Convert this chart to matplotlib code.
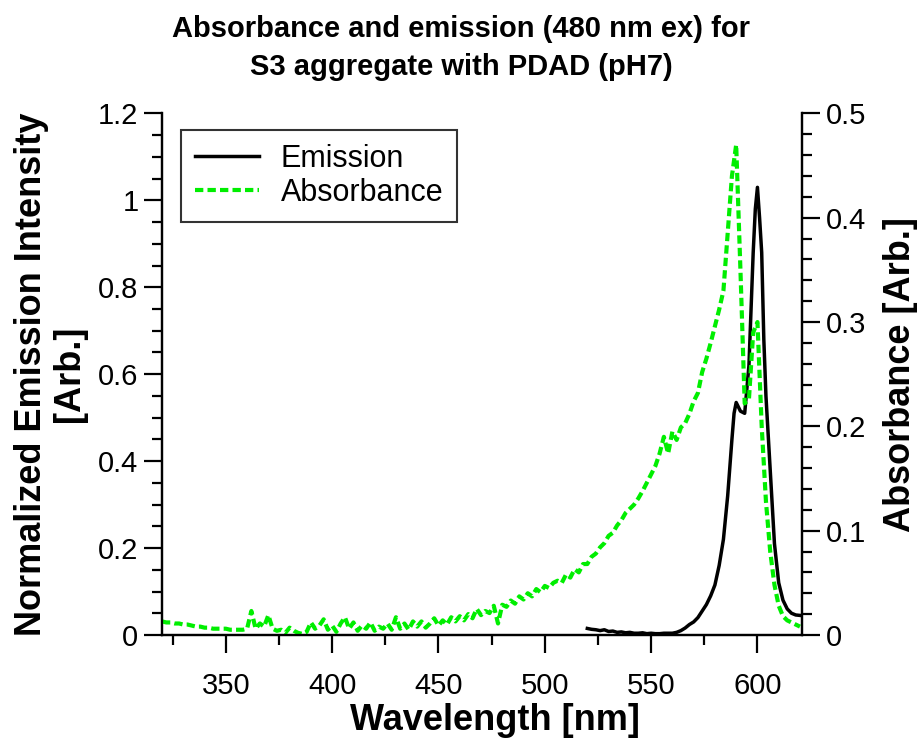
import matplotlib
matplotlib.use('Agg')
import matplotlib.pyplot as plt
import numpy as np
from matplotlib.ticker import MultipleLocator, FuncFormatter

plt.rcParams['font.family'] = ['Liberation Sans', 'DejaVu Sans']

# ----------------------------------------------------------------------------------
# Data
# ----------------------------------------------------------------------------------
# Absorbance (right axis), 320-620 nm every 2 nm
abs_wl = np.arange(320, 621, 2)
abs_val = [
    0.013, 0.012, 0.012, 0.011, 0.011, 0.010, 0.010, 0.009, 0.008, 0.008,   # 320-338
    0.007, 0.007, 0.006, 0.006, 0.006, 0.006, 0.005, 0.005, 0.005, 0.005,   # 340-358
    0.006, 0.023, 0.006, 0.011, 0.008, 0.019, 0.006, 0.004, 0.005, 0.002,   # 360-378
    0.007, 0.004, 0.002, 0.001, 0.003, 0.012, 0.006, 0.009, 0.015, 0.005,   # 380-398
    0.009, 0.003, 0.011, 0.017, 0.006, 0.012, 0.004, 0.009, 0.006, 0.012,   # 400-418
    0.004, 0.008, 0.006, 0.011, 0.005, 0.017, 0.006, 0.011, 0.005, 0.013,   # 420-438
    0.008, 0.013, 0.007, 0.011, 0.016, 0.009, 0.014, 0.010, 0.017, 0.013,   # 440-458
    0.018, 0.014, 0.020, 0.016, 0.025, 0.019, 0.023, 0.021, 0.028, 0.011,   # 460-478
    0.029, 0.027, 0.033, 0.030, 0.037, 0.034, 0.040, 0.037, 0.044, 0.041,   # 480-498
    0.047, 0.045, 0.050, 0.052, 0.050, 0.058, 0.055, 0.063, 0.060, 0.068,   # 500-518
    0.068, 0.075, 0.078, 0.084, 0.088, 0.095, 0.098, 0.105, 0.110, 0.117,   # 520-538
    0.121, 0.125, 0.131, 0.138, 0.146, 0.154, 0.162, 0.174, 0.190, 0.174,   # 540-558
    0.195, 0.187, 0.199, 0.203, 0.212, 0.224, 0.232, 0.252, 0.265, 0.280,   # 560-578
    0.296, 0.312, 0.330, 0.385, 0.440, 0.470, 0.350, 0.222, 0.226, 0.290,   # 580-598
    0.300, 0.200, 0.128, 0.080, 0.048, 0.028, 0.018, 0.014, 0.012, 0.010,   # 600-618
    0.008,                                                                  # 620
]

# Normalized emission (left axis)
em_wl = [520, 522, 524, 526, 528, 530, 532, 534, 536, 538,
         540, 542, 544, 546, 548, 550, 552, 554, 556, 558,
         560, 562, 564, 566, 568, 570, 572, 574, 576, 578,
         580, 582, 584, 586, 588, 589, 590, 592, 594, 596,
         598, 599, 600, 601, 602, 603, 604, 606, 608, 610,
         612, 614, 616, 618, 620]
em_val = [0.015, 0.013, 0.012, 0.010, 0.012, 0.008, 0.009, 0.006, 0.007, 0.005,
          0.006, 0.004, 0.004, 0.005, 0.003, 0.004, 0.003, 0.003, 0.004, 0.004,
          0.004, 0.006, 0.010, 0.016, 0.024, 0.030, 0.040, 0.055, 0.070, 0.090,
          0.115, 0.160, 0.220, 0.320, 0.450, 0.510, 0.535, 0.515, 0.510, 0.620,
          0.880, 0.980, 1.030, 0.960, 0.880, 0.680, 0.550, 0.380, 0.210, 0.120,
          0.080, 0.060, 0.050, 0.046, 0.045]


def trim(v, pos):
    return ('%g' % v)


# ----------------------------------------------------------------------------------
# Plot
# ----------------------------------------------------------------------------------
fig = plt.figure(figsize=(9.17, 7.45), dpi=100)
ax = fig.add_axes([0.1767, 0.1477, 0.698, 0.7])
ax2 = ax.twinx()

l2, = ax2.plot(abs_wl, abs_val, color='#00ee00', lw=3.0, ls=(0, (2.0, 1.0)))
l1, = ax.plot(em_wl, em_val, color='black', lw=2.5)

ax.set_xlim(320, 621)
ax.set_ylim(0, 1.2)
ax2.set_ylim(0, 0.5)

ax.xaxis.set_major_locator(MultipleLocator(50))
ax.xaxis.set_minor_locator(MultipleLocator(25))
ax.yaxis.set_major_locator(MultipleLocator(0.2))
ax.yaxis.set_minor_locator(MultipleLocator(0.05))
ax2.yaxis.set_major_locator(MultipleLocator(0.1))
ax2.yaxis.set_minor_locator(MultipleLocator(0.02))
ax.yaxis.set_major_formatter(FuncFormatter(trim))
ax2.yaxis.set_major_formatter(FuncFormatter(trim))

for a in (ax, ax2):
    a.spines['top'].set_visible(False)
    for s in a.spines.values():
        s.set_linewidth(1.6)
    a.tick_params(which='major', direction='out', length=13, width=1.6, labelsize=21, pad=4)
    a.tick_params(which='minor', direction='out', length=7, width=1.6)
ax.tick_params(axis='x', which='major', pad=14)

ax.set_xlabel('Wavelength [nm]', fontsize=26, fontweight='bold')
ax.xaxis.set_label_coords(0.52, -0.13)
ax.set_ylabel('Normalized Emission Intensity\n[Arb.]', fontsize=26, fontweight='bold',
              labelpad=8, linespacing=1.1)
ax2.set_ylabel('Absorbance [Arb.]', fontsize=26, fontweight='bold', labelpad=12)

fig.text(0.503, 0.98, 'Absorbance and emission (480 nm ex) for\nS3 aggregate with PDAD (pH7)',
         ha='center', va='top', fontsize=21, fontweight='bold', linespacing=1.45)

leg = ax.legend([l1, l2], ['Emission', 'Absorbance'], loc='upper left',
                bbox_to_anchor=(0.006, 0.998), fontsize=22, frameon=True, fancybox=False,
                edgecolor='black', handlelength=2.1, handletextpad=0.7,
                borderpad=0.45, labelspacing=0.15)
leg.get_frame().set_linewidth(1.5)

fig.savefig('out.png', dpi=100)
